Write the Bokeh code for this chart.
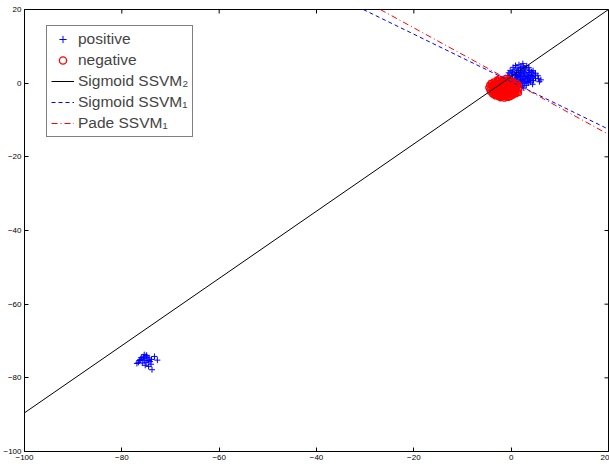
import math
from bokeh.plotting import figure
from bokeh.models import FixedTicker, Legend, LegendItem, Range1d
from bokeh.embed import file_html
from bokeh.resources import INLINE

# ---------------- data ----------------
x_ticks = [-100, -80, -60, -40, -20, 0, 20]
x_tick_labels = ["\u2212100", "\u221280", "\u221260", "\u221240", "\u221220", "0", "20"]
y_ticks = [-100, -80, -60, -40, -20, 0, 20]
y_tick_labels = ["\u2212100", "\u221280", "\u221260", "\u221240", "\u221220", "0", "20"]

# positive samples near the origin
pos_near = [
    (1.6, 5.0), (2.4, 5.3),
    (0.4, 4.3), (1.2, 4.1), (2.0, 4.3), (2.8, 4.1), (3.6, 4.2),
    (-0.2, 3.4), (0.6, 3.6), (1.4, 3.5), (2.2, 3.4), (3.0, 3.6), (3.8, 3.5), (4.5, 3.4),
    (-0.5, 2.8), (0.3, 2.7), (1.1, 2.9), (1.9, 2.8), (2.7, 2.7), (3.5, 2.9), (4.3, 2.8), (5.0, 2.7),
    (-0.7, 2.1), (0.1, 2.2), (0.9, 2.0), (1.7, 2.1), (2.5, 2.2), (3.3, 2.0), (4.1, 2.1), (4.9, 2.2),
    (-0.5, 1.4), (0.3, 1.3), (1.1, 1.5), (1.9, 1.4), (2.7, 1.3), (3.5, 1.5), (4.3, 1.4), (5.0, 1.3),
    (-0.2, 0.7), (0.6, 0.6), (1.4, 0.8), (2.2, 0.7), (3.0, 0.6), (3.8, 0.8), (4.6, 0.7),
    (0.4, 0.0), (1.2, 0.1), (2.0, -0.1), (2.8, 0.0), (3.6, 0.1),
    (1.4, -0.7), (2.3, -0.8), (3.1, -0.6),
    (5.6, 1.2), (6.1, 0.9), (5.5, 2.0), (5.8, 0.4), (4.4, -0.3), (-1.1, 1.0), (1.0, -1.2),
    (2.6, -1.3), (3.2, 4.7), (0.9, 4.8),
    (1.5, 3.0), (2.6, 3.1), (0.8, 2.4), (2.2, 2.5), (3.7, 2.4), (1.3, 1.8), (3.0, 1.8),
    (2.3, 1.0), (0.9, 1.1), (3.9, 1.1), (1.8, 0.3), (3.3, 0.4),
    (1.9, 3.9), (2.5, 4.6), (4.2, 3.1), (0.2, 3.1), (4.5, 1.8), (-0.3, 1.8), (2.0, 1.8),
    (3.4, 1.1), (1.6, 0.5), (2.6, 0.3), (4.0, 0.3), (0.0, 0.3),
]
# positive samples far away (outlier group)
pos_far = [
    (-75.6, -74.3), (-75.0, -74.0), (-74.4, -74.6), (-76.2, -75.0), (-75.3, -75.2),
    (-74.6, -75.3), (-76.6, -75.8), (-75.8, -76.0), (-75.0, -75.8), (-74.2, -75.6),
    (-75.5, -74.8), (-74.8, -74.4), (-76.0, -74.5), (-73.3, -74.2), (-72.7, -75.2),
    (-73.8, -77.8), (-76.9, -76.1), (-75.4, -73.7), (-74.0, -76.3), (-75.2, -76.6),
    (-74.9, -73.9), (-76.4, -75.3), (-73.9, -75.0), (-74.5, -76.9),
]
# negative samples
neg = [
    (-2.5, 1.3), (-1.8, 1.1), (-1.1, 1.4), (-0.4, 1.2),
    (-3.6, 0.5), (-2.8, 0.7), (-2.1, 0.6), (-1.3, 0.8), (-0.5, 0.5), (0.4, 0.6),
    (-4.2, 0.1), (-3.4, -0.1), (-2.7, 0.2), (-1.9, 0.0), (-1.2, -0.1), (-0.4, 0.1), (0.4, -0.1), (1.2, 0.1),
    (-4.5, -0.5), (-3.8, -0.7), (-3.0, -0.5), (-2.3, -0.6), (-1.5, -0.7), (-0.8, -0.5), (0.0, -0.6), (0.8, -0.7), (1.6, -0.5),
    (-4.7, -1.2), (-3.9, -1.1), (-3.2, -1.3), (-2.4, -1.2), (-1.7, -1.1), (-0.9, -1.3), (-0.1, -1.2), (0.7, -1.1), (1.6, -1.3),
    (-4.5, -1.8), (-3.7, -1.9), (-3.0, -1.7), (-2.2, -1.8), (-1.4, -1.9), (-0.6, -1.7), (0.2, -1.8), (1.0, -1.9), (1.7, -1.7),
    (-4.3, -2.4), (-3.5, -2.3), (-2.7, -2.5), (-1.9, -2.4), (-1.1, -2.3), (-0.3, -2.5), (0.5, -2.4), (1.4, -2.3),
    (-3.9, -3.0), (-3.1, -2.9), (-2.3, -3.1), (-1.5, -3.0), (-0.7, -2.9), (0.1, -3.1), (1.0, -3.0),
    (-3.2, -3.6), (-2.4, -3.5), (-1.6, -3.7), (-0.8, -3.6), (0.2, -3.5),
    (-2.2, -4.1), (-1.4, -4.2), (-0.6, -4.0),
    (-3.3, 0.3), (-2.2, -0.3), (-1.0, 0.4), (0.1, 0.3), (-3.5, -1.5), (-2.0, -1.5), (-0.3, -1.5),
    (1.2, -1.5), (-2.8, -2.1), (-1.0, -2.1), (0.6, -2.1), (-3.4, -2.7), (-1.9, -2.7), (-0.2, -2.8),
    (-2.9, -3.3), (-1.2, -3.3), (0.5, -3.3), (-1.9, -3.9), (1.6, -2.7), (-4.1, -0.9), (-2.7, -0.9),
    (-1.2, -0.9), (0.4, -0.9), (-1.6, 0.3),
    (-2.9, 1.0), (-0.8, 0.9), (-3.9, -0.3), (0.8, -0.3), (-4.0, -1.6), (-2.6, -1.6), (-0.9, -1.6),
    (0.5, -1.5), (-3.8, -2.6), (-2.3, -2.7), (-0.6, -2.3), (1.0, -2.6), (-2.6, -3.8), (-1.0, -3.9),
    (-3.6, -3.3), (-0.2, -3.8), (1.3, -0.9), (-1.8, 0.6), (-3.0, -0.1), (-1.6, -2.4),
]
# separating lines (end points)
sig2_x = [-100, 20]
sig2_y = [-89.5, 20]
sig1_x = [-30.4, 20]
sig1_y = [20, -12.5]
pade_x = [-26.9, 20]
pade_y = [20, -13.9]

legend_labels = ["positive", "negative", "Sigmoid SSVM\u2082", "Sigmoid SSVM\u2081", "Pade SSVM\u2081"]

# ---------------- figure ----------------
FONT = "Liberation Sans"
p = figure(width=609, height=462, x_range=Range1d(-100, 20), y_range=Range1d(-100, 20),
           output_backend="svg", toolbar_location=None,
           min_border_left=0, min_border_right=1, min_border_top=9, min_border_bottom=0,
           background_fill_color="white", border_fill_color="white")
p.xgrid.visible = False
p.ygrid.visible = False
p.outline_line_color = "black"
p.outline_line_width = 1

p.xaxis.ticker = FixedTicker(ticks=x_ticks)
p.xaxis.major_label_overrides = {t: s for t, s in zip(x_ticks, x_tick_labels)}
p.yaxis.ticker = FixedTicker(ticks=y_ticks)
p.yaxis.major_label_overrides = {t: s for t, s in zip(y_ticks, y_tick_labels)}
for ax in [p.xaxis[0], p.yaxis[0]]:
    ax.axis_line_color = "black"
    ax.axis_line_width = 1
    ax.major_tick_in = 4
    ax.major_tick_out = 0
    ax.major_tick_line_color = "black"
    ax.minor_tick_line_color = None
    ax.major_label_text_font = FONT
    ax.major_label_text_font_size = "8px"
    ax.major_label_text_color = "black"
    ax.major_label_standoff = 3

# inward ticks on the top and right frame edges
p.ray(x=x_ticks, y=[y_ticks[-1]] * len(x_ticks), length=4, length_units="screen",
      angle=-math.pi / 2, line_color="black", line_width=1)
p.ray(x=[x_ticks[-1]] * len(y_ticks), y=y_ticks, length=4, length_units="screen",
      angle=math.pi, line_color="black", line_width=1)

r_pos = p.scatter([q[0] for q in pos_near], [q[1] for q in pos_near], marker="cross",
                  size=6, line_color="#0000ff", line_width=1)
r_pos2 = p.scatter([q[0] for q in pos_far], [q[1] for q in pos_far], marker="cross",
                   size=6, line_color="#0000ff", line_width=1)
r_neg = p.scatter([q[0] for q in neg], [q[1] for q in neg], marker="circle",
                  size=5, line_color="#ff0000", fill_color=None, line_width=1.3)
r_s2 = p.line(sig2_x, sig2_y, line_color="black", line_width=1)
r_s1 = p.line(sig1_x, sig1_y, line_color="#0000ff", line_width=1, line_dash="4 3")
r_pd = p.line(pade_x, pade_y, line_color="#ff0000", line_width=1, line_dash="6 3 1 3")

legend = Legend(items=[
    LegendItem(label=legend_labels[0], renderers=[r_pos]),
    LegendItem(label=legend_labels[1], renderers=[r_neg]),
    LegendItem(label=legend_labels[2], renderers=[r_s2]),
    LegendItem(label=legend_labels[3], renderers=[r_s1]),
    LegendItem(label=legend_labels[4], renderers=[r_pd]),
], location=(22, 314))
legend.label_text_font = FONT
legend.label_text_font_size = "15.5px"
legend.glyph_width = 23
legend.glyph_height = 18
legend.spacing = 3
legend.padding = 4
legend.label_standoff = 4
legend.border_line_color = "black"
legend.border_line_width = 1
legend.background_fill_color = "white"
legend.background_fill_alpha = 1
legend.margin = 0
p.add_layout(legend, "center")

open("out.html", "w").write(file_html(p, INLINE))
